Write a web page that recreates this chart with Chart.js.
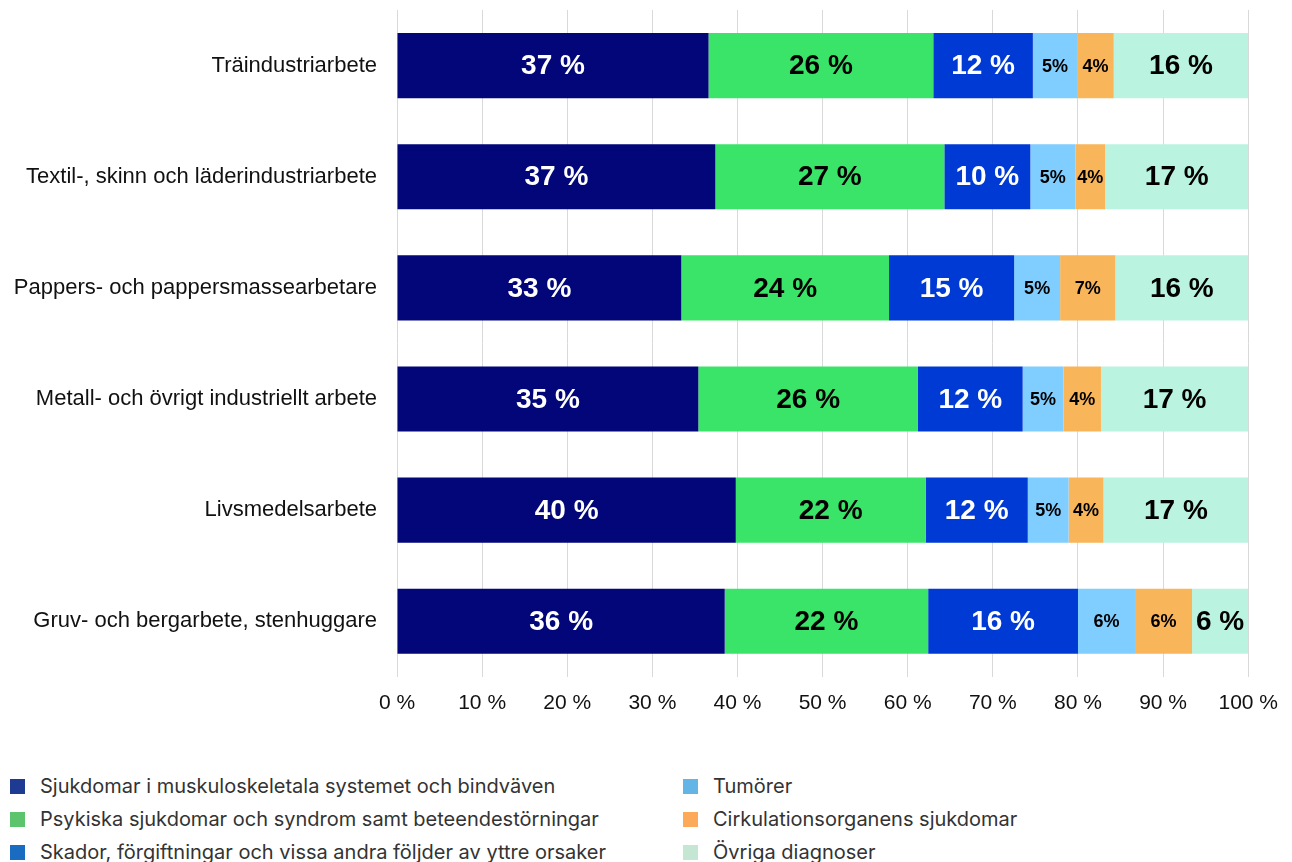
<!DOCTYPE html>
<html lang="sv">
<head>
<meta charset="utf-8">
<title>Diagnoser per yrkesgrupp</title>
<script src="https://cdn.jsdelivr.net/npm/chart.js@4/dist/chart.umd.min.js"></script>
<style>
  html, body { margin: 0; padding: 0; background: #fff; overflow: hidden; }
  body { width: 1292px; height: 862px; position: relative; }
  #wrap { position: absolute; left: 0; top: 0; width: 1292px; height: 730px; }
  #legend { position: absolute; left: 0; top: 770px; width: 1292px; font-family: Inter, "Open Sans", sans-serif; font-size: 20px; color: #333; }
  .item { position: absolute; height: 33px; line-height: 33px; white-space: nowrap; }
  .item i { position: absolute; left: 0; top: 9px; width: 15px; height: 15px; }
  .item span { position: absolute; left: 30px; }
</style>
</head>
<body>
<div id="wrap"><canvas id="chart"></canvas></div>
<div id="legend"></div>
<script>
'use strict';
const categories = [
  'Träindustriarbete',
  'Textil-, skinn och läderindustriarbete',
  'Pappers- och pappersmassearbetare',
  'Metall- och övrigt industriellt arbete',
  'Livsmedelsarbete',
  'Gruv- och bergarbete, stenhuggare'
];
const seriesNames = [
  'Sjukdomar i muskuloskeletala systemet och bindväven',
  'Psykiska sjukdomar och syndrom samt beteendestörningar',
  'Skador, förgiftningar och vissa andra följder av yttre orsaker',
  'Tumörer',
  'Cirkulationsorganens sjukdomar',
  'Övriga diagnoser'
];

// bar widths (share of 100 %)
const muskulo   = [36.6, 37.4, 33.4, 35.4, 39.8, 38.5];
const psykiska  = [26.4, 26.9, 24.4, 25.8, 22.3, 23.9];
const skador    = [11.7, 10.1, 14.7, 12.3, 12.0, 17.6];
const tumorer   = [5.2, 5.3, 5.4, 4.8, 4.8, 6.7];
const cirk      = [4.3, 3.5, 6.5, 4.4, 4.1, 6.7];
const ovriga    = [15.8, 16.8, 15.6, 17.3, 17.0, 6.6];

// printed labels
const muskuloLbl  = [37, 37, 33, 35, 40, 36];
const psykiskaLbl = [26, 27, 24, 26, 22, 22];
const skadorLbl   = [12, 10, 15, 12, 12, 16];
const tumorerLbl  = [5, 5, 5, 5, 5, 6];
const cirkLbl     = [4, 4, 7, 4, 4, 6];
const ovrigaLbl   = [16, 17, 16, 17, 17, 6];

const xTicks = [0, 10, 20, 30, 40, 50, 60, 70, 80, 90, 100];

const barColors = ['#020678', '#3ae468', '#003ad4', '#80cdff', '#f9b55a', '#baf4e1'];
const legendColors = ['#1f3a93', '#5cc46c', '#1a6cc0', '#63b5e5', '#fcaa5a', '#c6e6d4'];
const textColors = ['#fff', '#000', '#fff', '#000', '#000', '#000'];

const values = [muskulo, psykiska, skador, tumorer, cirk, ovriga];
const shown = [muskuloLbl, psykiskaLbl, skadorLbl, tumorerLbl, cirkLbl, ovrigaLbl];
const smallLabel = [false, false, false, true, true, false];

const FONT = '"Liberation Sans", Arial, sans-serif';

// text inside the segments
const barLabels = {
  id: 'barLabels',
  afterDatasetsDraw(chart) {
    const ctx = chart.ctx;
    chart.data.datasets.forEach((ds, i) => {
      chart.getDatasetMeta(i).data.forEach((bar, j) => {
        const v = shown[i][j];
        ctx.save();
        ctx.font = 'bold ' + (smallLabel[i] ? 18 : 28) + 'px ' + FONT;
        ctx.fillStyle = textColors[i];
        ctx.textAlign = 'center';
        ctx.textBaseline = 'middle';
        ctx.fillText(smallLabel[i] ? v + '%' : v + ' %', (bar.x + bar.base) / 2, bar.y + 1);
        ctx.restore();
      });
    });
  }
};

new Chart(document.getElementById('chart').getContext('2d'), {
  type: 'bar',
  data: {
    labels: categories,
    datasets: seriesNames.map((name, i) => ({
      label: name,
      data: values[i],
      backgroundColor: barColors[i],
      borderWidth: 0,
      barPercentage: 0.586,
      categoryPercentage: 1
    }))
  },
  options: {
    indexAxis: 'y',
    responsive: true,
    maintainAspectRatio: false,
    animation: false,
    layout: { padding: { top: 10, right: 42, bottom: 0, left: 0 } },
    plugins: {
      legend: { display: false },
      tooltip: { enabled: false }
    },
    scales: {
      x: {
        stacked: true,
        min: 0,
        max: 100,
        afterBuildTicks: s => { s.ticks = xTicks.map(v => ({ value: v })); },
        ticks: {
          padding: 14,
          color: '#111',
          font: { family: FONT, size: 21 },
          callback: v => v + ' %'
        },
        grid: { color: '#d9d9d9', lineWidth: 1, drawTicks: false },
        border: { display: false }
      },
      y: {
        stacked: true,
        grid: { display: false },
        border: { display: false },
        ticks: {
          padding: 12,
          color: '#111',
          font: { family: FONT, size: 22 }
        },
        afterFit: s => {
          s.width = 397;
          s.paddingTop = 0;
          s.paddingBottom = 0;
        }
      }
    }
  },
  plugins: [barLabels]
});

// two-column legend, filled column by column
const legend = document.getElementById('legend');
seriesNames.forEach((name, i) => {
  const item = document.createElement('div');
  item.className = 'item';
  item.style.left = (i < 3 ? 10 : 683) + 'px';
  item.style.top = ((i % 3) * 33) + 'px';
  item.innerHTML = '<i style="background:' + legendColors[i] + '"></i><span></span>';
  item.querySelector('span').textContent = name;
  legend.appendChild(item);
});
</script>
</body>
</html>
